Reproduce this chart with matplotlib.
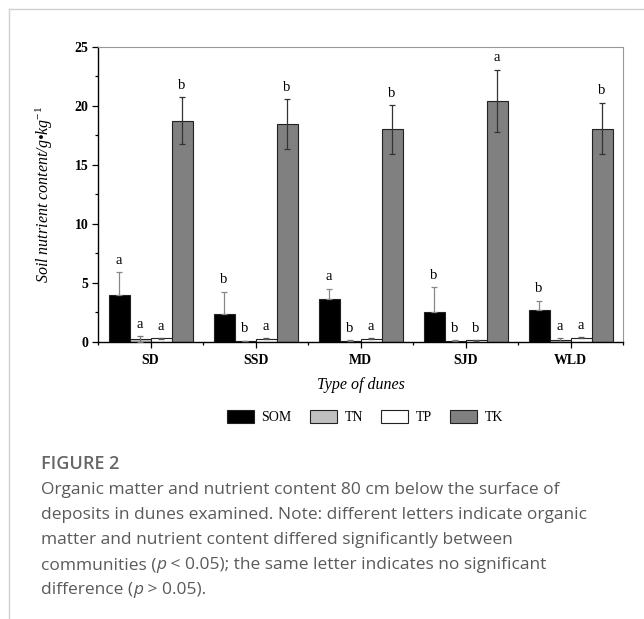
import numpy as np
import matplotlib
matplotlib.use('Agg')
import matplotlib.pyplot as plt
from matplotlib.patches import Patch
from matplotlib.lines import Line2D

# data
dunes = ['SD', 'SSD', 'MD', 'SJD', 'WLD']
nutrients = ['SOM', 'TN', 'TP', 'TK']
som = [3.98, 2.40, 3.61, 2.51, 2.68]
som_err = [1.95, 1.86, 0.90, 2.12, 0.82]
tn = [0.25, 0.08, 0.12, 0.12, 0.20]
tn_err = [0.25, 0.03, 0.05, 0.05, 0.10]
tp = [0.30, 0.28, 0.28, 0.15, 0.38]
tp_err = [0.05, 0.03, 0.05, 0.03, 0.04]
tk = [18.71, 18.46, 17.98, 20.38, 18.06]
tk_err = [2.00, 2.10, 2.05, 2.65, 2.18]
som_let = ['a', 'b', 'a', 'b', 'b']
tn_let = ['a', 'b', 'b', 'b', 'a']
tp_let = ['a', 'a', 'a', 'b', 'a']
tk_let = ['b', 'b', 'b', 'a', 'b']

caption = ["Organic matter and nutrient content 80 cm below the surface of",
           "deposits in dunes examined. Note: different letters indicate organic",
           "matter and nutrient content differed significantly between",
           [("communities (", False), ("p", True), (" < 0.05); the same letter indicates no significant", False)],
           [("difference (", False), ("p", True), (" > 0.05).", False)]]

plt.rcParams['font.family'] = ['Liberation Serif', 'DejaVu Serif']
plt.rcParams['mathtext.fontset'] = 'custom'
plt.rcParams['mathtext.rm'] = 'Liberation Serif'
plt.rcParams['mathtext.it'] = 'Liberation Serif:italic'

W, H = 644, 619
fig = plt.figure(figsize=(W / 100, H / 100), dpi=100)
ax = fig.add_axes([98 / W, 1 - 342 / H, 525 / W, 295.5 / H])

# (values, errors, letters, fill, error colour, upper error only)
series = [(som, som_err, som_let, 'black', '#888888', True),
          (tn, tn_err, tn_let, '#c0c0c0', '#777777', False),
          (tp, tp_err, tp_let, 'white', '#555555', False),
          (tk, tk_err, tk_let, '#808080', '#333333', False)]
x = np.arange(len(dunes))
w = 0.2
for i, (vals, errs, lets, fc, ec, up_only) in enumerate(series):
    pos = x + (i - 1.5) * w
    ax.bar(pos, vals, width=w, color=fc, edgecolor='#222222', linewidth=0.8,
           label=nutrients[i], zorder=2)
    yerr = [np.zeros(len(errs)), errs] if up_only else errs
    ax.errorbar(pos, vals, yerr=yerr, fmt='none', ecolor=ec, elinewidth=0.9,
                capsize=2.5, capthick=0.9, zorder=3)
    for p, v, e, l in zip(pos, vals, errs, lets):
        ax.text(p, v + e + 0.45, l, ha='center', va='bottom', fontsize=10.5)

ax.set_xlim(-0.5, 4.5)
ax.set_ylim(0, 25)
ax.set_yticks(np.arange(0, 26, 5))
ax.set_yticks(np.arange(2.5, 25, 5), minor=True)
ax.set_xticks(x)
ax.set_xticks(np.arange(-0.5, 5, 1), minor=True)
ax.set_xticklabels(dunes, fontweight='bold', fontsize=10)
for t in ax.get_yticklabels():
    t.set_fontweight('bold')
    t.set_fontsize(10)
ax.tick_params(which='major', direction='out', length=4, width=0.9, pad=3)
ax.tick_params(axis='x', which='major', pad=5)
ax.tick_params(which='minor', direction='out', length=2.5, width=0.9)
for s in ['left', 'bottom']:
    ax.spines[s].set_linewidth(1.0)
for s in ['top', 'right']:
    ax.spines[s].set_color('#999999')
    ax.spines[s].set_linewidth(0.8)

ax.set_xlabel('Type of dunes', fontstyle='italic', fontsize=11.5, labelpad=7)
ax.set_ylabel('Soil nutrient content/g\u2022kg$^{-1}$', fontstyle='italic',
              fontsize=11.5, labelpad=14)

handles = [Patch(facecolor=s[3], edgecolor='#222222', linewidth=0.8) for s in series]
fig.legend(handles, nutrients, loc='center', bbox_to_anchor=(365 / W, 1 - 417 / H),
           ncol=4, frameon=False, fontsize=10, handlelength=1.95, handleheight=1.1,
           handletextpad=0.55, columnspacing=1.3)

# page frame lines
fig.add_artist(Line2D([9 / W, 1], [1 - 9 / H, 1 - 9 / H], color='#d0d0d0', lw=1))
fig.add_artist(Line2D([9 / W, 9 / W], [0, 1 - 9 / H], color='#d0d0d0', lw=1))

cap_font = ['Open Sans', 'DejaVu Sans']
fig.text(41 / W, 1 - 464 / H, 'FIGURE 2', fontsize=13, fontweight='semibold',
         color='#666666', family=cap_font, va='center')

fig.canvas.draw()
renderer = fig.canvas.get_renderer()
for k, line in enumerate(caption):
    y = 1 - (490 + 25 * k) / H
    if isinstance(line, str):
        line = [(line, False)]
    xpos = 41 / W
    for seg, it in line:
        t = fig.text(xpos, y, seg, fontsize=12.5, color='#5a5a5a', family=cap_font,
                     fontstyle='italic' if it else 'normal', va='center')
        bb = t.get_window_extent(renderer)
        xpos += bb.width / W

fig.savefig('out.png', dpi=100)
